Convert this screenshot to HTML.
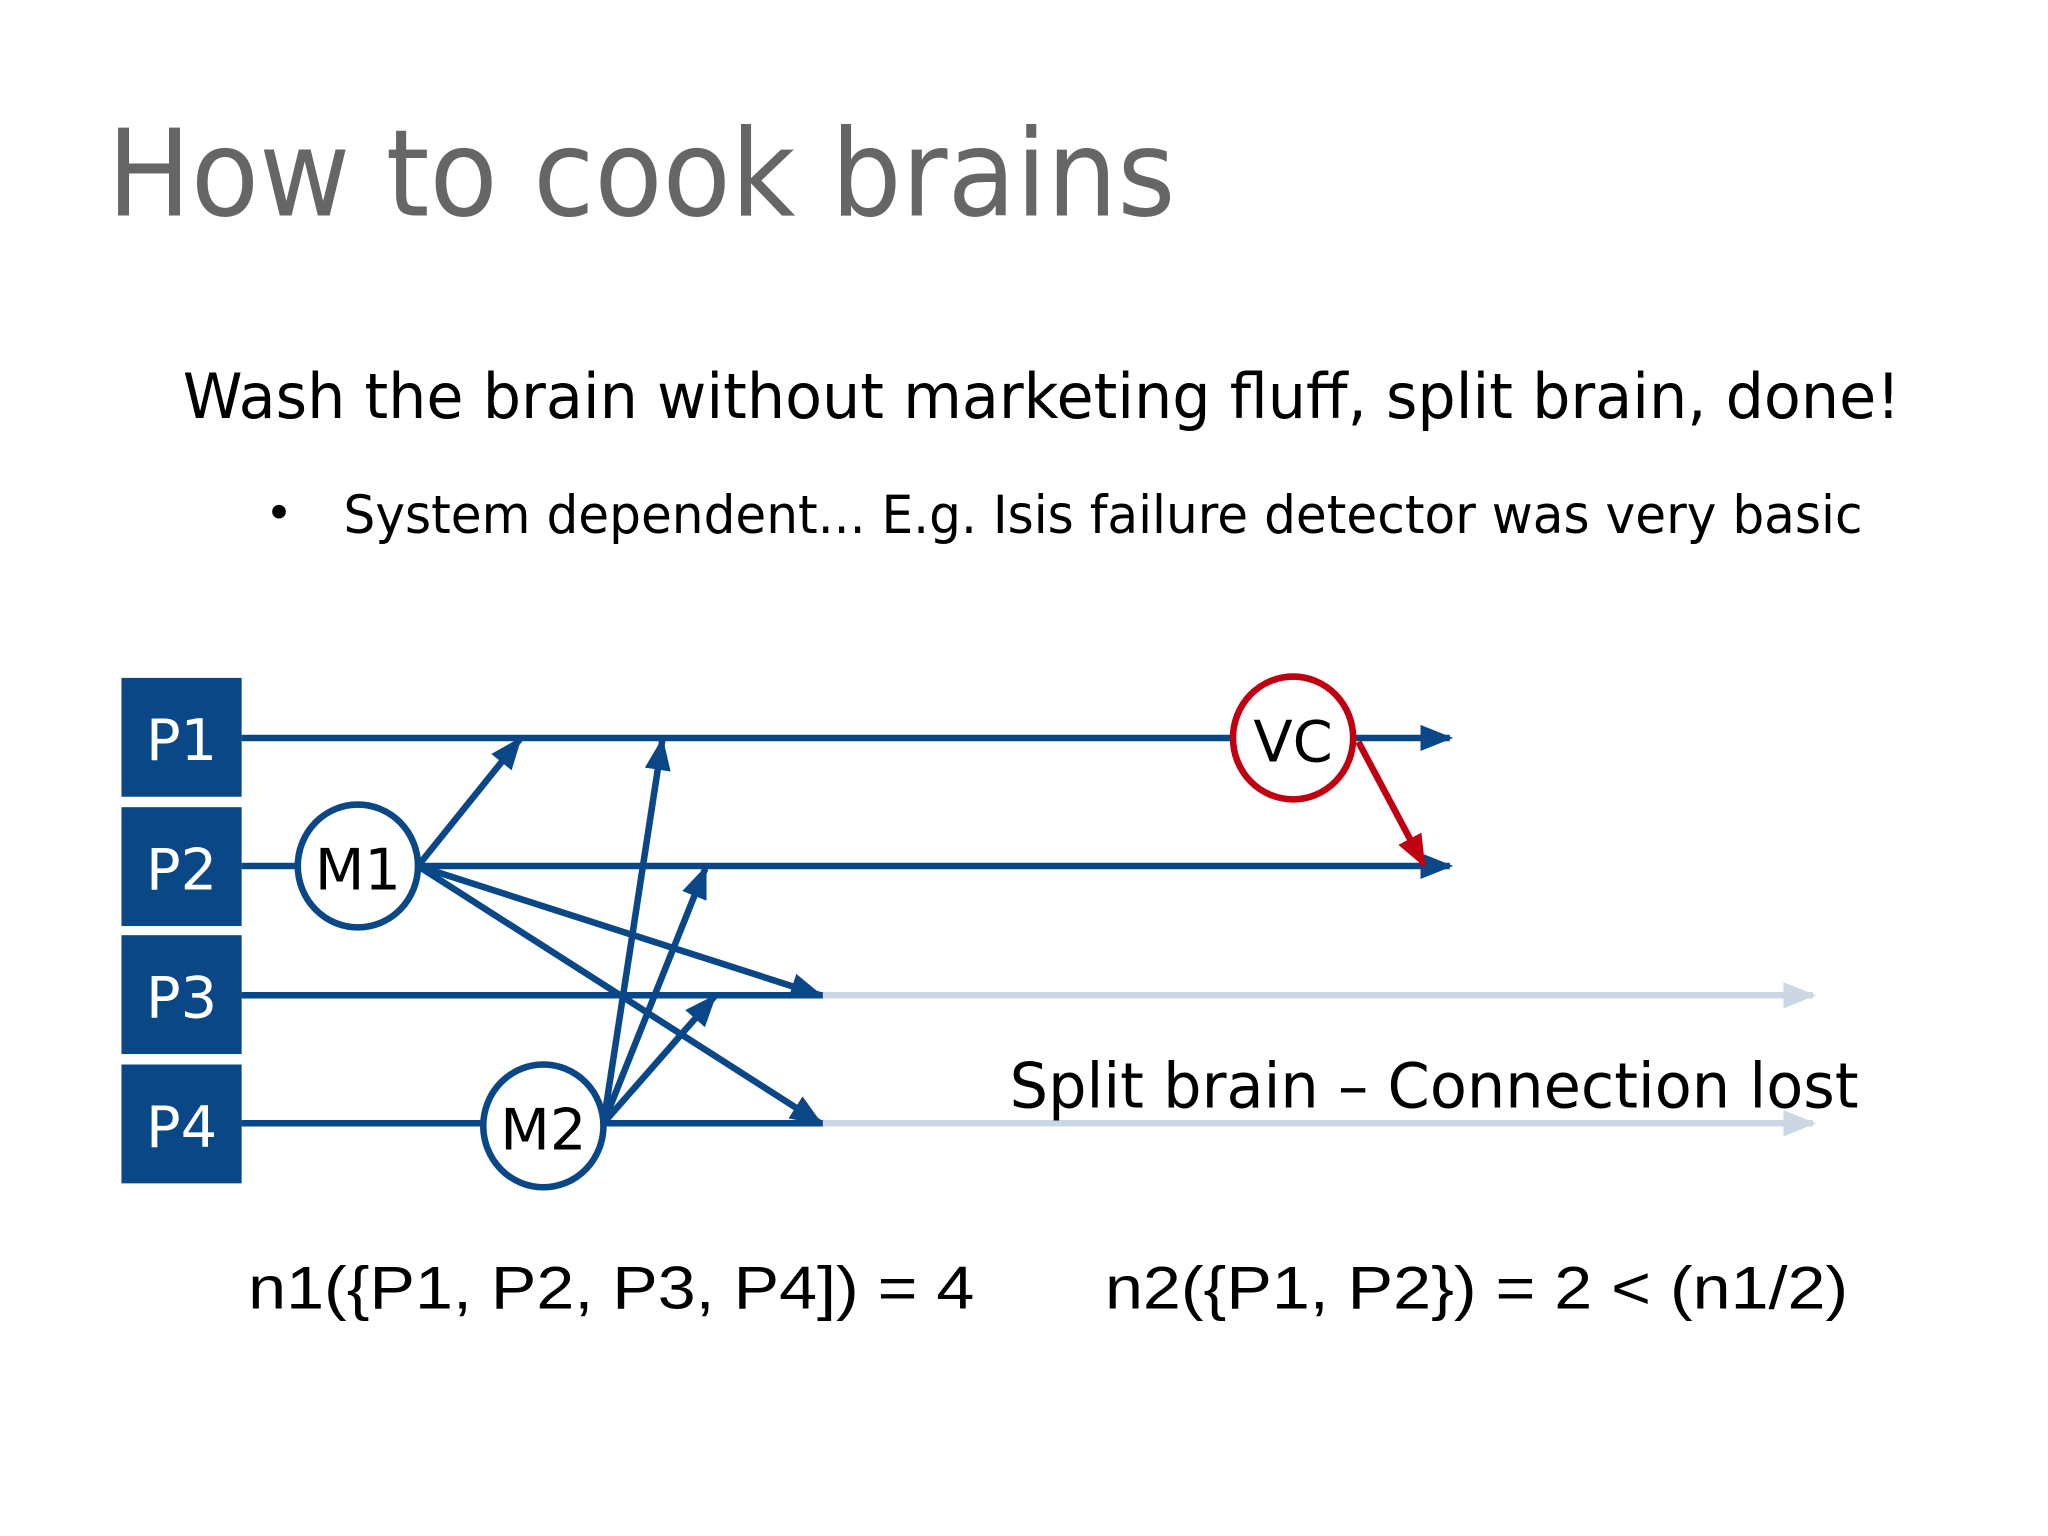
<!DOCTYPE html>
<html><head><meta charset="utf-8"><style>
html,body{margin:0;padding:0;background:#fff;width:2048px;height:1536px;overflow:hidden}
svg{display:block}
text{font-family:"DejaVu Sans","Liberation Sans",sans-serif}
</style></head><body>
<svg width="2048" height="1536" viewBox="0 0 1568 1176" xmlns="http://www.w3.org/2000/svg">
<defs>
<marker id="a" viewBox="0 0 10 10" refX="9" refY="5" markerWidth="5" markerHeight="5" orient="auto" markerUnits="strokeWidth"><path d="M0,1 L10,5 L0,9 z" fill="#0a4787"/></marker>
<marker id="r" viewBox="0 0 10 10" refX="9" refY="5" markerWidth="5" markerHeight="5" orient="auto" markerUnits="strokeWidth"><path d="M0,1 L10,5 L0,9 z" fill="#c00010"/></marker>
<marker id="l" viewBox="0 0 10 10" refX="9" refY="5" markerWidth="5" markerHeight="5" orient="auto" markerUnits="strokeWidth"><path d="M0,1 L10,5 L0,9 z" fill="#cbd7e4"/></marker>
</defs>
<text x="82" y="165" font-size="92" fill="#666" textLength="818" lengthAdjust="spacingAndGlyphs">How to cook brains</text>
<text x="140" y="320" font-size="48" fill="#000" textLength="1315" lengthAdjust="spacingAndGlyphs">Wash the brain without marketing fluff, split brain, done!</text>
<text x="203" y="405" font-size="36" fill="#000">•</text>
<text x="263" y="408" font-size="40" fill="#000" textLength="1163" lengthAdjust="spacingAndGlyphs">System dependent... E.g. Isis failure detector was very basic</text>

<g fill="#0a4787">
<rect x="93" y="519" width="92" height="91"/>
<rect x="93" y="618" width="92" height="91"/>
<rect x="93" y="716" width="92" height="91"/>
<rect x="93" y="815" width="92" height="91"/>
</g>
<g fill="#fff" font-size="44" text-anchor="middle">
<text x="139" y="582">P1</text>
<text x="139" y="681">P2</text>
<text x="139" y="779">P3</text>
<text x="139" y="878">P4</text>
</g>

<g stroke-width="5" fill="none">
<line x1="630" y1="762" x2="1388" y2="762" stroke="#cbd7e4" marker-end="url(#l)"/>
<line x1="630" y1="860" x2="1388" y2="860" stroke="#cbd7e4" marker-end="url(#l)"/>
<g stroke="#0a4787">
<line x1="185" y1="565" x2="1110" y2="565" marker-end="url(#a)"/>
<line x1="185" y1="663" x2="1110" y2="663" marker-end="url(#a)"/>
<line x1="185" y1="762" x2="630" y2="762"/>
<line x1="185" y1="860" x2="630" y2="860"/>
<line x1="320" y1="663" x2="398" y2="566" marker-end="url(#a)"/>
<line x1="320" y1="663" x2="628" y2="762" marker-end="url(#a)"/>
<line x1="320" y1="663" x2="628" y2="860" marker-end="url(#a)"/>
<line x1="462" y1="860" x2="507" y2="567" marker-end="url(#a)"/>
<line x1="462" y1="860" x2="540" y2="665" marker-end="url(#a)"/>
<line x1="462" y1="860" x2="547" y2="763" marker-end="url(#a)"/>
</g>
<line x1="1040" y1="568" x2="1090" y2="662" stroke="#c00010" marker-end="url(#r)"/>
</g>

<ellipse cx="274" cy="663" rx="46" ry="47" fill="#fff" stroke="#0a4787" stroke-width="5"/>
<ellipse cx="416" cy="862" rx="46" ry="47" fill="#fff" stroke="#0a4787" stroke-width="5"/>
<ellipse cx="990" cy="565" rx="46" ry="47" fill="#fff" stroke="#c00010" stroke-width="5"/>
<g font-size="44" text-anchor="middle" fill="#000">
<text x="274" y="681">M1</text>
<text x="416" y="880">M2</text>
<text x="990" y="583">VC</text>
</g>

<text x="773" y="848" font-size="48" fill="#000" textLength="650" lengthAdjust="spacingAndGlyphs">Split brain – Connection lost</text>
<text x="190" y="1002" font-size="46" fill="#000" style="font-family:'Liberation Sans',sans-serif" textLength="556" lengthAdjust="spacingAndGlyphs">n1({P1, P2, P3, P4]) = 4</text>
<text x="846" y="1002" font-size="46" fill="#000" style="font-family:'Liberation Sans',sans-serif" textLength="569" lengthAdjust="spacingAndGlyphs">n2({P1, P2}) = 2 &lt; (n1/2)</text>
</svg>
</body></html>
